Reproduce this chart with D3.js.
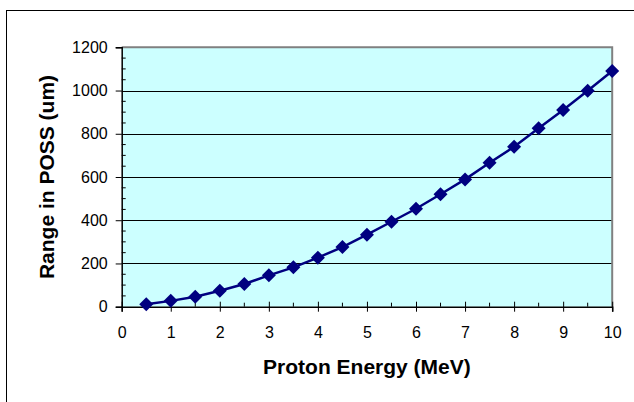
<!DOCTYPE html>
<html><head><meta charset="utf-8">
<script src="https://cdn.jsdelivr.net/npm/d3@7"></script>
<style>body{margin:0;background:#fff}svg{display:block}</style>
</head><body>
<script>
const energy = [0.5,1,1.5,2,2.5,3,3.5,4,4.5,5,5.5,6,6.5,7,7.5,8,8.5,9,9.5,10];
const range = [11,27,46,74,105,145,182,227,276,333,393,453,520,589,666,740,825,910,999,1090];
const xTicks = [0,1,2,3,4,5,6,7,8,9,10];
const yTicks = [0,200,400,600,800,1000,1200];
const xTitle = "Proton Energy (MeV)";
const yTitle = "Range in POSS (um)";

const W = 634, H = 402;
const L = 121.7, R = 612.2, T = 47.3, B = 306.7;
const svg = d3.select("body").append("svg").attr("width", W).attr("height", H);
const font = "'Liberation Sans', Arial, sans-serif";

svg.append("rect").attr("x", 6.5).attr("y", 10.5).attr("width", 800).attr("height", 600)
  .attr("fill", "#fff").attr("stroke", "#000").attr("stroke-width", 1);

const x = d3.scaleLinear().domain([0, 10]).range([L, R]);
const y = d3.scaleLinear().domain([0, 1200]).range([B, T]);

svg.append("rect").attr("x", L).attr("y", T).attr("width", R - L).attr("height", B - T)
  .attr("fill", "#CCFFFF");

// gridlines
svg.append("g").selectAll("line").data(yTicks.filter(d => d > 0 && d < 1200)).join("line")
  .attr("x1", L).attr("x2", R).attr("y1", d => Math.round(y(d)) + 0.5).attr("y2", d => Math.round(y(d)) + 0.5)
  .attr("stroke", "#000").attr("stroke-width", 1);

// plot border top and right (gray)
svg.append("path").attr("d", `M${L},${T}H${R}V${B}`).attr("fill", "none")
  .attr("stroke", "#808080").attr("stroke-width", 2);

// y axis
const yAxis = d3.axisLeft(y).tickValues(yTicks).tickSize(6).tickPadding(8).tickFormat(d3.format("d"));
const gy = svg.append("g").attr("transform", `translate(${L},0)`).call(yAxis);
gy.select(".domain").attr("stroke", "#000").attr("stroke-width", 1.5);
gy.selectAll(".tick text").attr("font-family", font).attr("font-size", 16).attr("fill", "#000");
// y minor ticks inside
svg.append("g").selectAll("line").data(d3.range(50, 1200, 50).filter(d => d % 200 !== 0)).join("line")
  .attr("x1", L).attr("x2", L + 4).attr("y1", d => y(d)).attr("y2", d => y(d))
  .attr("stroke", "#000");

// x axis
const xAxis = d3.axisBottom(x).tickValues(xTicks).tickSize(5).tickPadding(15);
const gx = svg.append("g").attr("transform", `translate(0,${B})`).call(xAxis);
gx.select(".domain").attr("stroke", "#000").attr("stroke-width", 1.5);
gx.selectAll(".tick line").attr("y1", -5);
gx.selectAll(".tick text").attr("font-family", font).attr("font-size", 16).attr("fill", "#000");
svg.append("g").selectAll("line").data(d3.range(0.5, 10, 1)).join("line")
  .attr("x1", d => x(d)).attr("x2", d => x(d)).attr("y1", B - 4).attr("y2", B)
  .attr("stroke", "#000");

// line
const pts = energy.map((e, i) => [e, range[i]]);
svg.append("path").datum(pts)
  .attr("d", d3.line().x(d => x(d[0])).y(d => y(d[1])))
  .attr("fill", "none").attr("stroke", "#000080").attr("stroke-width", 2.5);

// diamond markers
const s = 7;
svg.append("g").selectAll("path").data(pts).join("path")
  .attr("d", d => {
    const cx = x(d[0]), cy = y(d[1]);
    return `M${cx},${cy - s}L${cx + s},${cy}L${cx},${cy + s}L${cx - s},${cy}Z`;
  })
  .attr("fill", "#000080");

// titles
svg.append("text").attr("x", (L + R) / 2).attr("y", 374).attr("text-anchor", "middle")
  .attr("font-family", font).attr("font-weight", "bold").attr("font-size", 21).text(xTitle);
svg.append("text").attr("transform", `translate(54,${(T + B) / 2}) rotate(-90)`).attr("text-anchor", "middle")
  .attr("font-family", font).attr("font-weight", "bold").attr("font-size", 21).text(yTitle);
</script>
</body></html>
